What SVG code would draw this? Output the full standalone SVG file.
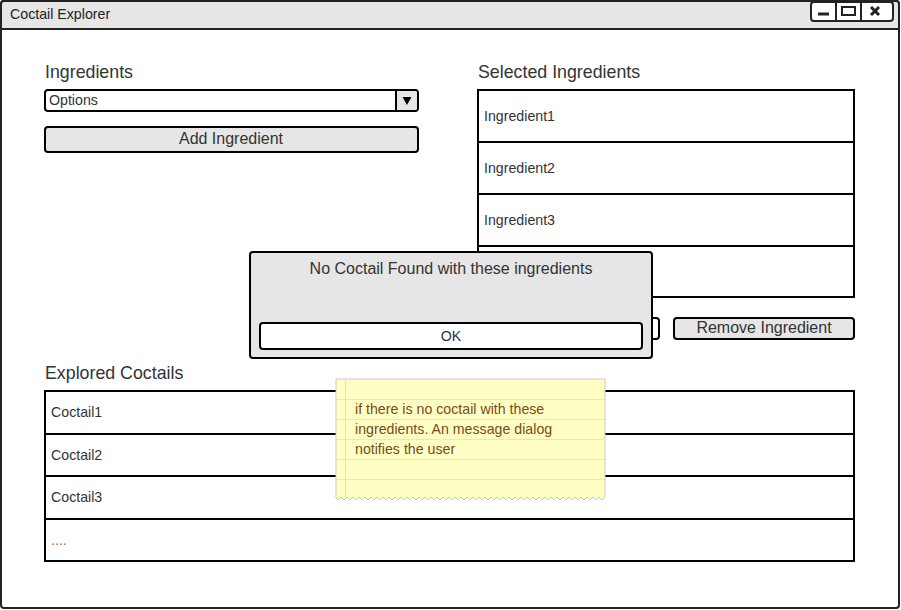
<svg xmlns="http://www.w3.org/2000/svg" width="901" height="610" viewBox="0 0 901 610">
<style>
text{font-family:"Liberation Sans",Arial,sans-serif;fill:#333}
.lbl{font-size:16px}
.hd{font-size:17.8px}
.sm{font-size:14.2px}
.box{fill:#fff;stroke:#000;stroke-width:2}
.btn{fill:#e6e6e6;stroke:#000;stroke-width:2}
.row{stroke:#000;stroke-width:2}
.ruled{stroke:#efe9a8;stroke-width:1}
.note{font-size:14.2px;fill:#7a4a1a}
</style>
<rect width="901" height="610" fill="#fff"/>
<g id="window">
  <rect x="1" y="1" width="898" height="607" rx="3" fill="#fff" stroke="#222" stroke-width="2"/>
  <path d="M1 29 V4 Q1 1 4 1 H896 Q899 1 899 4 V29 Z" fill="#e6e6e6" stroke="#222" stroke-width="2"/>
  <text x="10" y="19" class="sm" style="fill:#222">Coctail Explorer</text>
  <g id="window-buttons">
    <rect x="811" y="2" width="82" height="19" rx="3" fill="#fff" stroke="#222" stroke-width="2"/>
    <line x1="836" y1="2" x2="836" y2="21" stroke="#222" stroke-width="2"/>
    <line x1="861" y1="2" x2="861" y2="21" stroke="#222" stroke-width="2"/>
    <line x1="818" y1="14" x2="829" y2="14" stroke="#222" stroke-width="3"/>
    <rect x="842" y="7" width="13" height="8" fill="none" stroke="#222" stroke-width="2"/>
    <path d="M871 7 L879 15 M879 7 L871 15" stroke="#222" stroke-width="3"/>
  </g>
</g>
<g id="ingredients-label"><text x="45" y="78" class="hd">Ingredients</text></g>
<g id="ingredients-dropdown">
  <rect x="45" y="90" width="373" height="21" rx="3" class="box"/>
  <path d="M396 91 H415 Q417 91 417 93 V108 Q417 110 415 110 H396 Z" fill="#e6e6e6"/>
  <line x1="396" y1="90" x2="396" y2="111" stroke="#000" stroke-width="2"/>
  <path d="M402.5 97 H411.5 L407 105 Z" fill="#000"/>
  <text x="49" y="105" class="sm">Options</text>
</g>
<g id="add-ingredient">
  <rect x="45" y="127" width="373" height="25" rx="3" class="btn"/>
  <text x="231" y="144" class="lbl" text-anchor="middle">Add Ingredient</text>
</g>
<g id="selected-label"><text x="478" y="78" class="hd">Selected Ingredients</text></g>
<g id="selected-list">
  <rect x="478" y="90" width="376" height="207" class="box"/>
  <line x1="478" y1="142" x2="854" y2="142" class="row"/>
  <line x1="478" y1="194" x2="854" y2="194" class="row"/>
  <line x1="478" y1="246" x2="854" y2="246" class="row"/>
  <text x="484" y="121" class="sm">Ingredient1</text>
  <text x="484" y="173" class="sm">Ingredient2</text>
  <text x="484" y="225" class="sm">Ingredient3</text>
</g>
<g id="hidden-button">
  <rect x="478" y="318" width="181" height="21" rx="3" class="box"/>
</g>
<g id="remove-ingredient">
  <rect x="674" y="318" width="180" height="21" rx="3" class="btn"/>
  <text x="764" y="333" class="lbl" text-anchor="middle">Remove Ingredient</text>
</g>
<g id="explored-label"><text x="45" y="379" class="hd">Explored Coctails</text></g>
<g id="explored-list">
  <rect x="45" y="391" width="809" height="170" class="box"/>
  <line x1="45" y1="434" x2="854" y2="434" class="row"/>
  <line x1="45" y1="476" x2="854" y2="476" class="row"/>
  <line x1="45" y1="519" x2="854" y2="519" class="row"/>
  <text x="51" y="417" class="sm">Coctail1</text>
  <text x="51" y="460" class="sm">Coctail2</text>
  <text x="51" y="502" class="sm">Coctail3</text>
  <text x="51" y="545" class="sm" style="fill:#777">....</text>
</g>
<g id="dialog">
  <rect x="250" y="252" width="402" height="106" rx="3" fill="#e6e6e6" stroke="#000" stroke-width="2"/>
  <text x="451" y="274" class="lbl" text-anchor="middle">No Coctail Found with these ingredients</text>
  <rect x="260" y="323" width="382" height="26" rx="3" class="box"/>
  <text x="451" y="341" class="sm" text-anchor="middle">OK</text>
</g>
<g id="sticky-note">
  <path d="M336 379 H605 V497 L602 500 L599 497 L596 500 L593 497 L590 500 L587 497 L584 500 L581 497 L578 500 L575 497 L572 500 L569 497 L566 500 L563 497 L560 500 L557 497 L554 500 L551 497 L548 500 L545 497 L542 500 L539 497 L536 500 L533 497 L530 500 L527 497 L524 500 L521 497 L518 500 L515 497 L512 500 L509 497 L506 500 L503 497 L500 500 L497 497 L494 500 L491 497 L488 500 L485 497 L482 500 L479 497 L476 500 L473 497 L470 500 L467 497 L464 500 L461 497 L458 500 L455 497 L452 500 L449 497 L446 500 L443 497 L440 500 L437 497 L434 500 L431 497 L428 500 L425 497 L422 500 L419 497 L416 500 L413 497 L410 500 L407 497 L404 500 L401 497 L398 500 L395 497 L392 500 L389 497 L386 500 L383 497 L380 500 L377 497 L374 500 L371 497 L368 500 L365 497 L362 500 L359 497 L356 500 L353 497 L350 500 L347 497 L344 500 L341 497 L338 500 L336 498 Z" fill="#ffffc4" stroke="#c8c8c8" stroke-width="1"/>
  <line x1="337" y1="399.5" x2="604" y2="399.5" class="ruled"/>
  <line x1="337" y1="419.5" x2="604" y2="419.5" class="ruled"/>
  <line x1="337" y1="439.5" x2="604" y2="439.5" class="ruled"/>
  <line x1="337" y1="459.5" x2="604" y2="459.5" class="ruled"/>
  <line x1="337" y1="479.5" x2="604" y2="479.5" class="ruled"/>
  <line x1="345.5" y1="380" x2="345.5" y2="497" stroke="#f5d9b0" stroke-width="1"/>
  <text x="355" y="414" class="note">if there is no coctail with these</text>
  <text x="355" y="434" class="note">ingredients. An message dialog</text>
  <text x="355" y="454" class="note">notifies the user</text>
</g>
</svg>
